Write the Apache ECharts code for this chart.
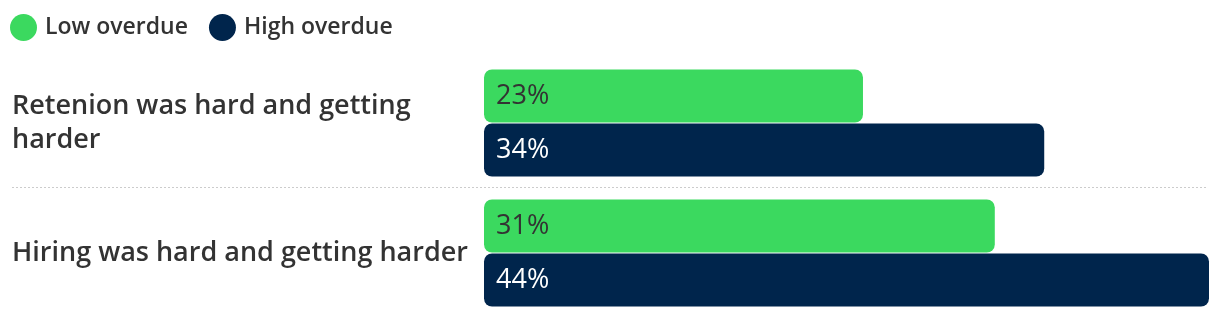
<!DOCTYPE html>
<html>
<head>
<meta charset="utf-8">
<script src="https://cdn.jsdelivr.net/npm/echarts@6/dist/echarts.min.js"></script>
<style>
html,body{margin:0;padding:0;background:#fff;}
#chart{width:1220px;height:318px;}
</style>
</head>
<body>
<div id="chart"></div>
<script>
const categories = ['Retenion was hard and getting harder', 'Hiring was hard and getting harder'];
const seriesNames = ['Low overdue', 'High overdue'];
const lowOverdue = [23, 31];
const highOverdue = [34, 44];

const FONT = '"Open Sans", Lato, sans-serif';
const GREEN = '#3BD95F';
const NAVY = '#00254C';

const chart = echarts.init(document.getElementById('chart'), null, {renderer: 'canvas'});
const option = {
  animation: false,
  textStyle: {fontFamily: FONT},
  legend: {
    left: 10, top: 14, padding: 0,
    icon: 'circle', itemWidth: 27, itemHeight: 27, itemGap: 21,
    textStyle: {fontFamily: FONT, fontSize: 23, fontWeight: 600, color: '#333', padding: [0, 0, 0, 3]},
    data: seriesNames
  },
  grid: {left: 484, right: 11, top: 58, bottom: 0, containLabel: false},
  xAxis: {
    type: 'value', min: 0, max: 44, show: false
  },
  yAxis: {
    type: 'category', inverse: true, data: categories,
    axisLine: {show: false}, axisTick: {show: false}, splitLine: {show: false},
    axisLabel: {
      align: 'left', margin: 472, width: 470, overflow: 'break',
      fontFamily: FONT, fontSize: 27, fontWeight: 600, color: '#333', lineHeight: 34
    }
  },
  series: [
    {
      name: seriesNames[0], type: 'bar', data: lowOverdue,
      barWidth: 53, barGap: '2%',
      itemStyle: {color: GREEN, borderRadius: 8},
      label: {show: true, position: 'insideLeft', distance: 12, formatter: '{c}%',
        fontFamily: FONT, fontSize: 27, fontWeight: 500, color: '#333'}
    },
    {
      name: seriesNames[1], type: 'bar', data: highOverdue,
      barWidth: 53, barGap: '2%',
      itemStyle: {color: NAVY, borderRadius: 8},
      label: {show: true, position: 'insideLeft', distance: 12, formatter: '{c}%',
        fontFamily: FONT, fontSize: 27, fontWeight: 500, color: '#fff'}
    }
  ]
};
chart.setOption(option);

// separator between categories, derived from category positions
const y0 = chart.convertToPixel({yAxisIndex: 0}, categories[0]);
const y1 = chart.convertToPixel({yAxisIndex: 0}, categories[1]);
const sepY = Math.round((y0 + y1) / 2) - 0.5;
chart.setOption({
  graphic: [{
    type: 'line', silent: true,
    shape: {x1: 12, y1: sepY, x2: 1208, y2: sepY},
    style: {stroke: '#cccccc', lineWidth: 1, lineDash: [2, 2]}
  }]
});
</script>
</body>
</html>
